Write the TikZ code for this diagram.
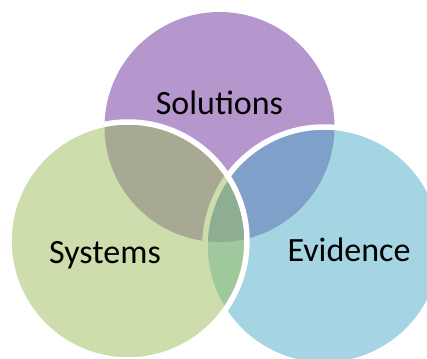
\documentclass[tikz,border=0pt]{standalone}
\usepackage{fontspec}
\setmainfont{Carlito}
\usepackage{xcolor}
\usepackage{tikz}
\usetikzlibrary{shapes,positioning}
\definecolor{solpurple}{RGB}{181,151,206}
\definecolor{sysgreen}{RGB}{155,187,89}
\definecolor{evblue}{RGB}{75,172,198}
\tikzstyle{venn} = [circle, draw=white, line width=5.5pt,
    inner sep=0pt, minimum size=238pt]
\tikzstyle{label} = [anchor=base, inner sep=0pt, font=\fontsize{34}{40}\selectfont]

\begin{document}
\begin{tikzpicture}[x=1pt, y=-1pt]
    \clip (0,0) rectangle (427,358);
    % Place circles
    \node [venn, draw=none, minimum size=230pt, fill=solpurple] (solutions) at (219.5,127) {};
    \node [venn, fill=evblue, fill opacity=0.5] (evidence) at (324,246) {};
    \node [venn, fill=sysgreen, fill opacity=0.5] (systems) at (128,241) {};

    % Place labels
    \node [label] (soltext) at (219.5,115) {Solutions};
    \node [label] (systext) at (105,263) {Systems};
    \node [label] (evtext) at (349,261) {Evidence};
\end{tikzpicture}
\end{document}
